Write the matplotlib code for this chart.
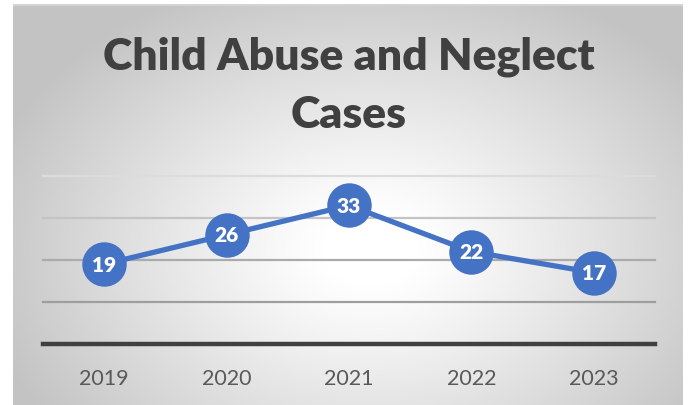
import numpy as np
import matplotlib
matplotlib.use('Agg')
import matplotlib.pyplot as plt

years = ['2019', '2020', '2021', '2022', '2023']
cases = [19, 26, 33, 22, 17]
grid_levels = [10, 20, 30, 40]

W, H = 688, 406
fig = plt.figure(figsize=(W / 100, H / 100), dpi=100)
fig.patch.set_facecolor('white')

# chart area with a soft radial shading
bg = fig.add_axes([13 / W, 0, (683 - 13) / W, (H - 5) / H])
bg.set_axis_off()
gx, gy = np.meshgrid(np.arange(13, 683), np.arange(5, H))
r = np.sqrt(((gx - 370) / 400.0) ** 2 + ((gy - 250) / 290.0) ** 2)
shade = 255 - 60 * np.clip((r - 0.12) / 0.88, 0, 1) ** 1.1
img = np.dstack([shade, shade, shade]).astype(np.uint8)
bg.imshow(img, aspect='auto', interpolation='bilinear')
for s in bg.spines.values():
    s.set_visible(False)
bg.plot([0, 669], [0, 0], color='#d4d4d4', lw=1.5)

ax = fig.add_axes([43 / W, 1 - 345 / H, (655 - 43) / W, (345 - 177) / H])
ax.patch.set_alpha(0.0)
x = np.arange(len(years))
ax.set_xlim(-0.5, len(years) - 0.5)
ax.set_ylim(0, 40)

grid_colors = ['#9e9e9e', '#ababab', '#c4c4c4', '#dcdcdc']
for lvl, c in zip(grid_levels, grid_colors):
    ax.axhline(lvl, color=c, lw=1.6, zorder=1, clip_on=False)
ax.axhline(0, color='#404040', lw=3.2, zorder=2, clip_on=False)

ax.plot(x, cases, color='#4472C4', lw=3.8, marker='o', ms=32,
        markeredgewidth=0, zorder=3, clip_on=False)
for xi, v in zip(x, cases):
    ax.text(xi, v, str(v), ha='center', va='center', color='white',
            fontsize=15, fontweight='heavy', family='Lato', zorder=4)

for s in ax.spines.values():
    s.set_visible(False)
ax.set_yticks([])
ax.set_xticks(x)
ax.set_xticklabels(years, fontsize=15.5, color='#595959', family='Lato')
ax.tick_params(axis='x', length=0, pad=17)

title_kw = dict(ha='center', va='center', fontsize=32, fontweight='heavy',
                color='#404040', family='Lato')
fig.text(349 / W, 1 - 57 / H, 'Child Abuse and Neglect', **title_kw)
fig.text(349 / W, 1 - 115 / H, 'Cases', **title_kw)

fig.savefig('out.png', dpi=100)
